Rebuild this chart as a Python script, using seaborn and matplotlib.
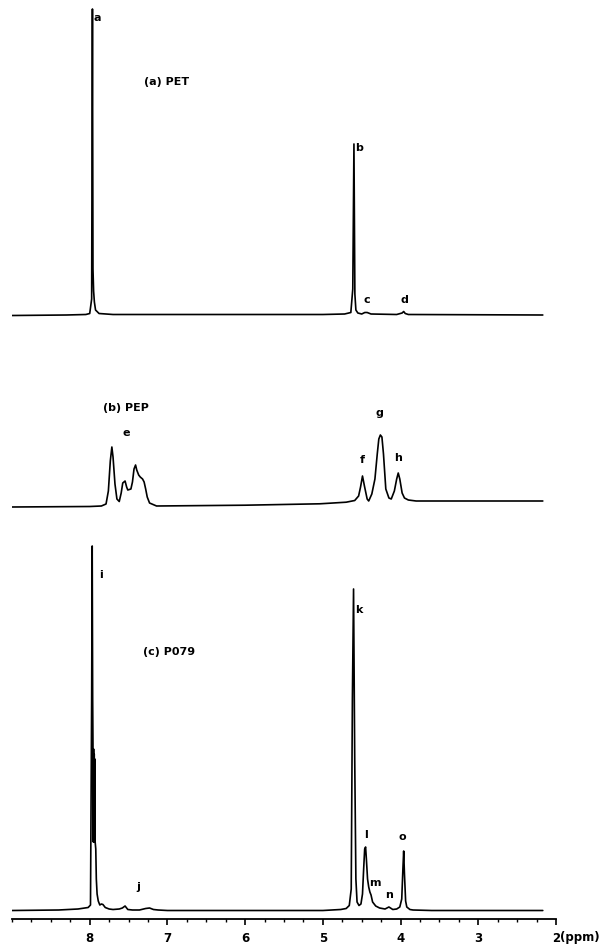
import numpy as np
import pandas as pd
import matplotlib
matplotlib.use("Agg")
import matplotlib.pyplot as plt
from matplotlib.ticker import MultipleLocator, FixedLocator
import seaborn as sns

# ---- spectrum (a) PET : chemical shift (ppm) and intensity above baseline ----
ppm_a = [9.00, 8.30, 8.05, 8.00, 7.975, 7.965, 7.958, 7.950, 7.940, 7.925, 7.88, 7.70,
         5.00, 4.72, 4.64, 4.615, 4.600, 4.588, 4.575, 4.55, 4.50, 4.46, 4.43, 4.38,
         4.05, 3.98, 3.96, 3.94, 3.90, 2.17]
int_a = [-0.5, 0, 0.5, 1.5, 16, 306, 46, 24, 13, 5, 1.5, 0.5,
         0.5, 1, 2.5, 26, 171, 21, 5, 2, 1, 2.5, 2.5, 1,
         0.5, 2, 3.5, 1.5, 0.5, 0]

# ---- spectrum (b) PEP ----
ppm_b = [9.00, 8.00, 7.85, 7.79, 7.76, 7.735, 7.715, 7.70, 7.675, 7.65, 7.62, 7.595,
         7.575, 7.545, 7.525, 7.51, 7.47, 7.45, 7.43, 7.41, 7.395, 7.37, 7.35, 7.32,
         7.30, 7.28, 7.26, 7.23, 7.14, 6.00, 5.04, 4.91, 4.70, 4.59, 4.54, 4.515,
         4.49, 4.465, 4.43, 4.41, 4.37, 4.33, 4.30, 4.28, 4.26, 4.24, 4.22, 4.19,
         4.15, 4.12, 4.08, 4.05, 4.03, 4.01, 3.98, 3.95, 3.90, 3.80, 3.50, 2.17]
int_b = [-3, -2.5, -2, 0, 13, 43, 57, 47, 20, 5, 2.5, 11,
         21, 23, 17, 14, 15, 22, 35, 39, 34, 29, 27, 25,
         22, 15, 7, 1, -2, -1.2, 0.2, 0.8, 1.8, 3.5, 8, 17,
         28, 18, 5, 3, 10, 25, 50, 65, 69, 67, 50, 15,
         6, 5, 13, 25, 31, 25, 11, 6, 4, 3, 3, 3]

# ---- spectrum (c) P079 ----
ppm_c = [9.00, 8.40, 8.15, 8.02, 7.99, 7.975, 7.968, 7.962, 7.958, 7.954, 7.950, 7.946,
         7.942, 7.938, 7.934, 7.930, 7.922, 7.915, 7.905, 7.89, 7.87, 7.85, 7.83, 7.80,
         7.75, 7.70, 7.62, 7.58, 7.545, 7.51, 7.45, 7.36, 7.28, 7.23, 7.18, 7.12,
         7.00, 6.00, 5.00, 4.77, 4.70, 4.66, 4.635, 4.62, 4.605, 4.59, 4.575, 4.56,
         4.535, 4.51, 4.49, 4.475, 4.462, 4.450, 4.44, 4.425, 4.41, 4.395, 4.38, 4.36,
         4.32, 4.27, 4.20, 4.15, 4.10, 4.05, 4.01, 3.985, 3.97, 3.96, 3.95, 3.935,
         3.92, 3.88, 3.84, 3.60, 2.17]
int_c = [0, 0.5, 1.5, 3, 5.5, 211.5, 364.5, 211.5, 166.5, 68.5, 161.5, 68.5,
         156.5, 68.5, 151.5, 68.5, 61.5, 31.5, 16.5, 9.5, 5.5, 6.5, 6, 3,
         1.5, 1, 1.5, 2.5, 4.5, 1, 0.5, 0.5, 2, 2.5, 1, 0.5,
         0, 0, 0, 1, 2, 5, 21.5, 211.5, 321.5, 151.5, 31.5, 8.5,
         5, 6.5, 16.5, 41.5, 61.5, 63.5, 51.5, 31.5, 23.5, 18.5, 15.5, 8.5,
         4.5, 2.5, 1.5, 3.5, 1, 1.5, 3.5, 11.5, 41.5, 59.5, 36.5, 9.5,
         3.5, 1, 0.5, 0, 0]

# tick labels on the shift axis
tick_ppm = [8, 7, 6, 5, 4, 3, 2]
tick_text = ["8", "7", "6", "5", "4", "3", "2"]

# peak assignments: (letter, ppm, height of label in figure pixels from top)
labels_a = [("a", 7.90, 18), ("b", 4.53, 148), ("c", 4.43, 300), ("d", 3.95, 300)]
labels_b = [("e", 7.53, 433), ("f", 4.49, 460), ("g", 4.27, 413), ("h", 4.03, 458)]
labels_c = [("i", 7.86, 575), ("j", 7.37, 887), ("k", 4.54, 610), ("l", 4.44, 835),
            ("m", 4.33, 883), ("n", 4.15, 895), ("o", 3.98, 837)]
titles = [("(a) PET", 7.30, 82), ("(b) PEP", 7.83, 408), ("(c) P079", 7.32, 652)]

# baselines of the stacked traces, figure pixels from top
W, H = 613, 945
axis_y = 920
base_px = {"a": 316, "b": 505, "c": 911.5}

sns.set_style("white")
plt.rcParams["font.family"] = ["DejaVu Sans"]
plt.rcParams["font.weight"] = "bold"
plt.rcParams["text.color"] = "black"
plt.rcParams["xtick.color"] = "black"
plt.rcParams["xtick.labelcolor"] = "black"

fig = plt.figure(figsize=(W / 100, H / 100), dpi=100)
ax = fig.add_axes([12 / W, (H - axis_y) / H, 544 / W, axis_y / H])

def offset(px):
    return axis_y - px

for name, ppm, inten in (("a", ppm_a, int_a), ("b", ppm_b, int_b), ("c", ppm_c, int_c)):
    df = pd.DataFrame({"ppm": ppm, "signal": np.asarray(inten) + offset(base_px[name])})
    sns.lineplot(data=df, x="ppm", y="signal", estimator=None, sort=False,
                 color="black", linewidth=1.2, ax=ax)

ax.set_xlim(9.0, 2.0)
ax.set_ylim(0, axis_y)
ax.set_xlabel("")
ax.set_ylabel("")
ax.set_yticks([])
for side in ("top", "left", "right"):
    ax.spines[side].set_visible(False)
ax.spines["bottom"].set_linewidth(1.3)
ax.spines["bottom"].set_color("black")

ax.xaxis.set_major_locator(FixedLocator(tick_ppm))
ax.set_xticklabels(tick_text, fontsize=8.5, fontweight="bold", color="black")
ax.xaxis.set_minor_locator(MultipleLocator(0.25))
ax.tick_params(axis="x", which="major", direction="out", length=4.5, width=1.2,
               color="black", pad=4, bottom=True)
ax.tick_params(axis="x", which="minor", direction="out", length=2.5, width=1.0,
               color="black", bottom=True)

ax.text(1.95, -(938 - axis_y), "(ppm)", ha="left", va="center", fontsize=8.5,
        fontweight="bold", color="black", clip_on=False)

for group in (labels_a, labels_b, labels_c):
    for letter, x, ypx in group:
        ax.text(x, offset(ypx), letter, ha="center", va="center", fontsize=8,
                fontweight="bold", color="black")

for text, x, ypx in titles:
    ax.text(x, offset(ypx), text, ha="left", va="center", fontsize=8,
            fontweight="bold", color="black")

fig.savefig("out.png", dpi=100, facecolor="white")
